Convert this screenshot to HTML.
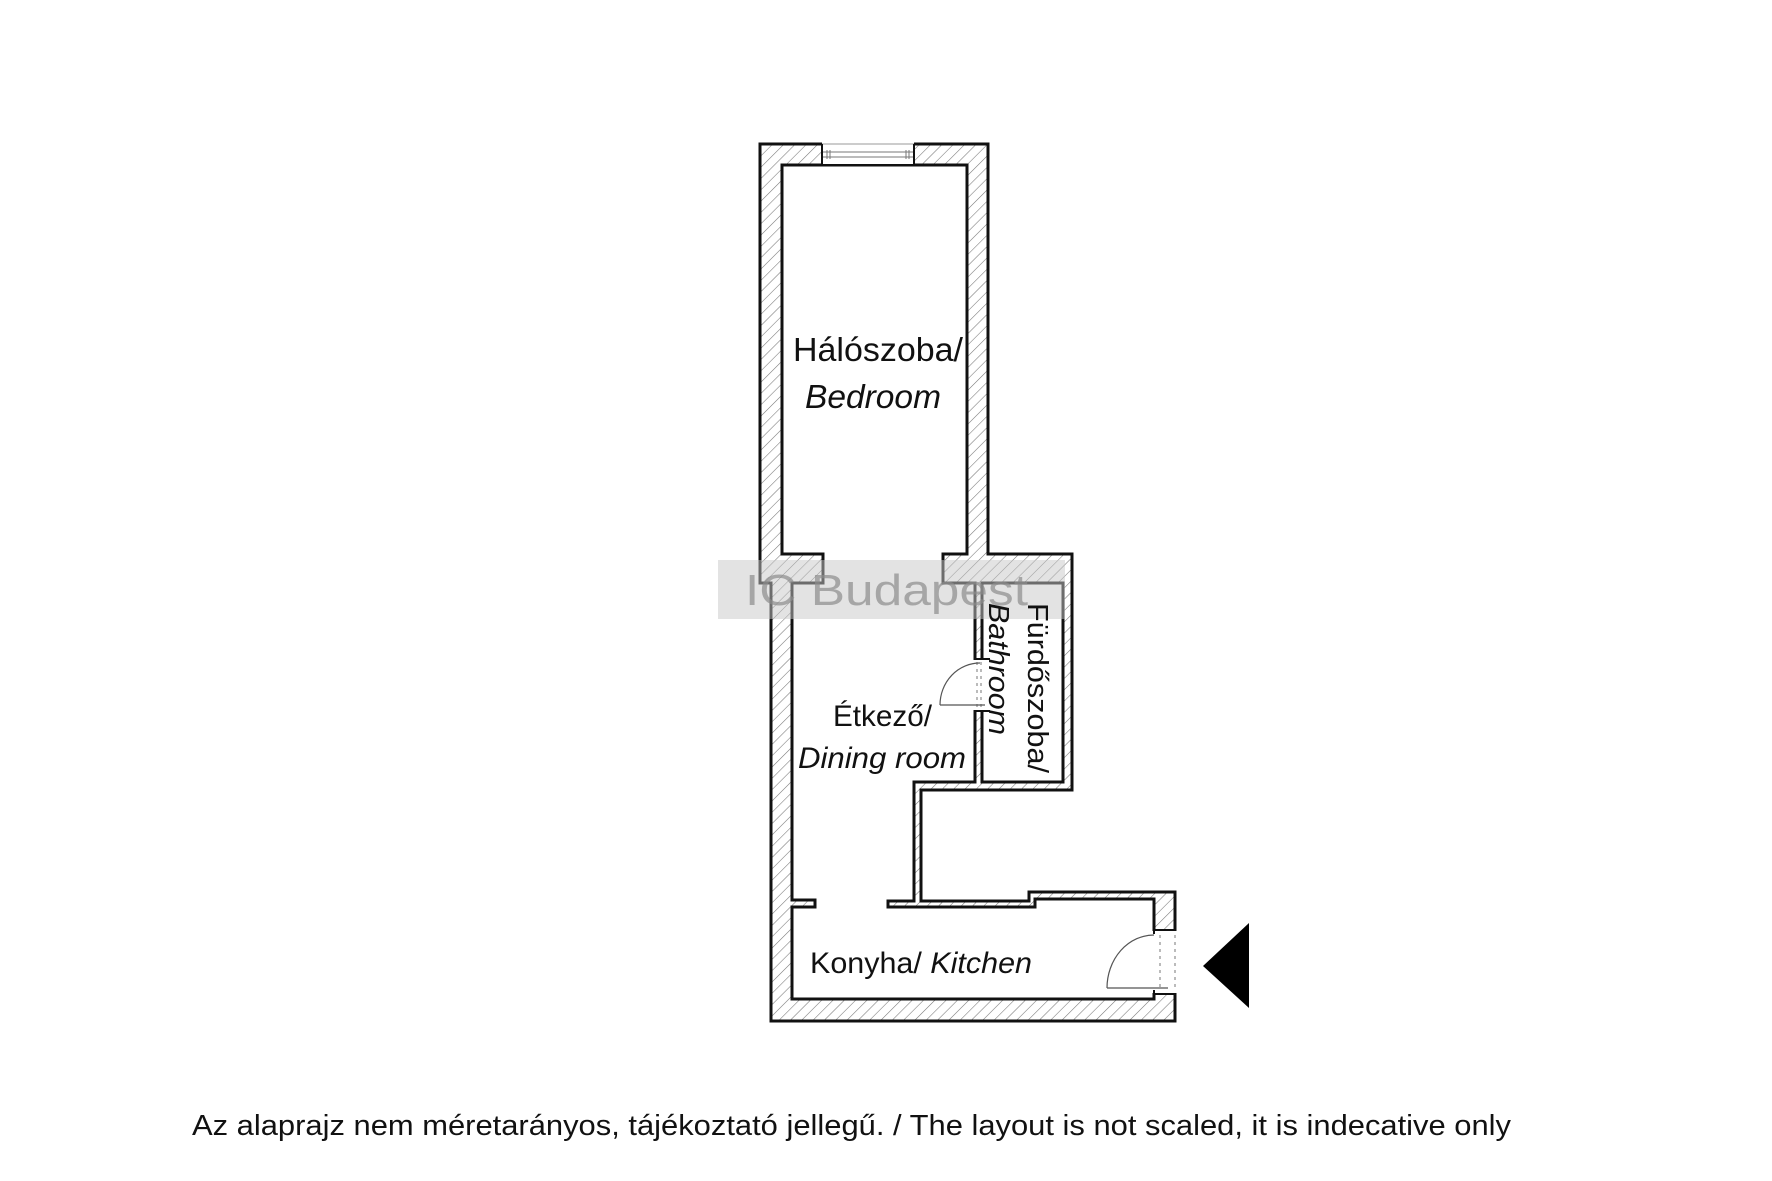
<!DOCTYPE html>
<html><head><meta charset="utf-8"><style>html,body{margin:0;padding:0;background:#fff}svg{display:block}</style></head>
<body>
<svg width="1772" height="1181" viewBox="0 0 1772 1181" xmlns="http://www.w3.org/2000/svg" font-family="Liberation Sans, DejaVu Sans, sans-serif">
<defs>
<pattern id="h" width="8" height="8" patternUnits="userSpaceOnUse" patternTransform="rotate(45)">
<rect width="8" height="8" fill="#fff"/>
<line x1="0" y1="0" x2="0" y2="8" stroke="#777" stroke-width="1.1"/>
</pattern>
</defs>
<rect width="1772" height="1181" fill="#fff"/>
<path d="M760,144 L988,144 L988,554 L1072,554 L1072,790 L921,790 L921,901 L1029,901 L1029,892 L1175,892 L1175,1021 L771,1021 L771,583 L760,583 Z" fill="url(#h)" stroke="#111" stroke-width="3" stroke-linejoin="miter"/>
<path d="M782,165 L967,165 L967,554 L943,554 L943,583 L975,583 L975,782 L914,782 L914,901 L888,901 L888,907 L1035,907 L1035,899 L1154,899 L1154,999 L792,999 L792,907 L815,907 L815,900 L792,900 L792,583 L823,583 L823,554 L782,554 Z" fill="#fff" stroke="#111" stroke-width="3"/>
<rect x="982" y="583" width="81" height="199" fill="#fff" stroke="#111" stroke-width="3"/>
<rect x="822" y="141" width="92" height="23" fill="#fff"/>
<line x1="822" y1="144" x2="914" y2="144" stroke="#999" stroke-width="1"/>
<line x1="822" y1="152" x2="914" y2="152" stroke="#777" stroke-width="1"/>
<line x1="822" y1="157" x2="914" y2="157" stroke="#777" stroke-width="1"/>
<line x1="822" y1="144" x2="822" y2="165" stroke="#111" stroke-width="2"/>
<line x1="914" y1="144" x2="914" y2="165" stroke="#111" stroke-width="2"/>
<line x1="827" y1="150" x2="827" y2="159" stroke="#777" stroke-width="1"/>
<line x1="830" y1="150" x2="830" y2="159" stroke="#777" stroke-width="1"/>
<line x1="906" y1="150" x2="906" y2="159" stroke="#777" stroke-width="1"/>
<line x1="909" y1="150" x2="909" y2="159" stroke="#777" stroke-width="1"/>
<rect x="973" y="660" width="11" height="50" fill="#fff"/>
<line x1="974" y1="659" x2="990" y2="659" stroke="#111" stroke-width="2"/>
<line x1="974" y1="711" x2="990" y2="711" stroke="#111" stroke-width="2"/>
<line x1="977" y1="662" x2="977" y2="708" stroke="#777" stroke-width="1" stroke-dasharray="3,4"/>
<line x1="981" y1="662" x2="981" y2="708" stroke="#777" stroke-width="1" stroke-dasharray="3,4"/>
<path d="M940,705 A40,42 0 0 1 980,663" fill="none" stroke="#555" stroke-width="1.2"/>
<line x1="940" y1="705" x2="985" y2="705" stroke="#555" stroke-width="1.2"/>
<rect x="1152" y="931" width="26" height="62" fill="#fff"/>
<line x1="1154" y1="930" x2="1175" y2="930" stroke="#111" stroke-width="2"/>
<line x1="1154" y1="994" x2="1175" y2="994" stroke="#111" stroke-width="2"/>
<line x1="1154" y1="930" x2="1154" y2="934" stroke="#111" stroke-width="2"/>
<line x1="1154" y1="990" x2="1154" y2="999" stroke="#111" stroke-width="2"/>
<line x1="1160" y1="935" x2="1160" y2="990" stroke="#777" stroke-width="1" stroke-dasharray="3,4"/>
<line x1="1175" y1="935" x2="1175" y2="990" stroke="#777" stroke-width="1" stroke-dasharray="3,4"/>
<path d="M1107,988 A47,53 0 0 1 1154,935" fill="none" stroke="#555" stroke-width="1.2"/>
<line x1="1107" y1="988" x2="1168" y2="988" stroke="#555" stroke-width="1.2"/>
<polygon points="1203,966 1249,923 1249,1008" fill="#000"/>
<rect x="718" y="560" width="347" height="59" fill="rgba(200,200,200,0.5)"/>
<text x="745" y="605" font-size="44" fill="rgba(140,140,140,0.7)" textLength="283" lengthAdjust="spacingAndGlyphs">IC Budapest</text>
<g fill="#111">
<text x="793" y="361" font-size="33" textLength="170" lengthAdjust="spacingAndGlyphs">Hálószoba/</text>
<text x="805" y="408" font-size="33" font-style="italic" textLength="136" lengthAdjust="spacingAndGlyphs">Bedroom</text>
<text x="833" y="726" font-size="30" textLength="99" lengthAdjust="spacingAndGlyphs">Étkező/</text>
<text x="798" y="768" font-size="30" font-style="italic" textLength="168" lengthAdjust="spacingAndGlyphs">Dining room</text>
<text x="810" y="973" font-size="30" textLength="222" lengthAdjust="spacingAndGlyphs">Konyha/ <tspan font-style="italic">Kitchen</tspan></text>
<text x="989" y="603" font-size="29" font-style="italic" transform="rotate(90 989 603)" textLength="132" lengthAdjust="spacingAndGlyphs">Bathroom</text>
<text x="1028" y="603" font-size="29" transform="rotate(90 1028 603)" textLength="170" lengthAdjust="spacingAndGlyphs">Fürdőszoba/</text>
<text x="192" y="1135" font-size="29" textLength="1319" lengthAdjust="spacingAndGlyphs">Az alaprajz nem méretarányos, tájékoztató jellegű. / The layout is not scaled, it is indecative only</text>
</g>
</svg>
</body></html>
